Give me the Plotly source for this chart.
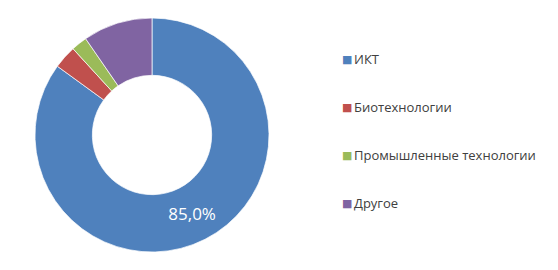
import plotly.graph_objects as go

categories = ["ИКТ", "Биотехнологии", "Промышленные технологии", "Другое"]
shares = [85.0, 3.2, 2.2, 9.6]
slice_text = ["85,0%", "", "", ""]
colors = ["#4F81BD", "#C0504D", "#9BBB59", "#8064A2"]

W, H = 558, 270
fig = go.Figure()
fig.add_trace(go.Pie(
    labels=categories,
    values=shares,
    text=slice_text,
    textinfo="text",
    textposition="inside",
    insidetextorientation="horizontal",
    textfont=dict(family="Open Sans", size=17, color="white"),
    hole=0.51,
    sort=False,
    direction="clockwise",
    rotation=0,
    marker=dict(colors=colors, line=dict(color="white", width=0.7)),
    domain=dict(x=[35 / W, 269 / W], y=[18 / H, 252 / H]),
    showlegend=False,
    hoverinfo="label+percent",
))

# legend drawn as annotations
legend_top = 59
legend_step = 48
for i, (cat, col) in enumerate(zip(categories, colors)):
    y = legend_top + i * legend_step
    fig.add_annotation(
        x=340 / W, y=1 - y / H, xref="paper", yref="paper",
        xanchor="left", yanchor="middle", showarrow=False,
        text=f"<span style='color:{col}'>■</span>",
        font=dict(family="DejaVu Sans", size=11, color=col),
    )
    fig.add_annotation(
        x=352 / W, y=1 - y / H, xref="paper", yref="paper",
        xanchor="left", yanchor="middle", showarrow=False,
        text=cat,
        font=dict(family="Open Sans", size=13, color="#404040"),
    )

fig.update_layout(
    width=W, height=H,
    margin=dict(l=0, r=0, t=0, b=0),
    paper_bgcolor="white",
    plot_bgcolor="white",
)
fig.write_html("out.html")
